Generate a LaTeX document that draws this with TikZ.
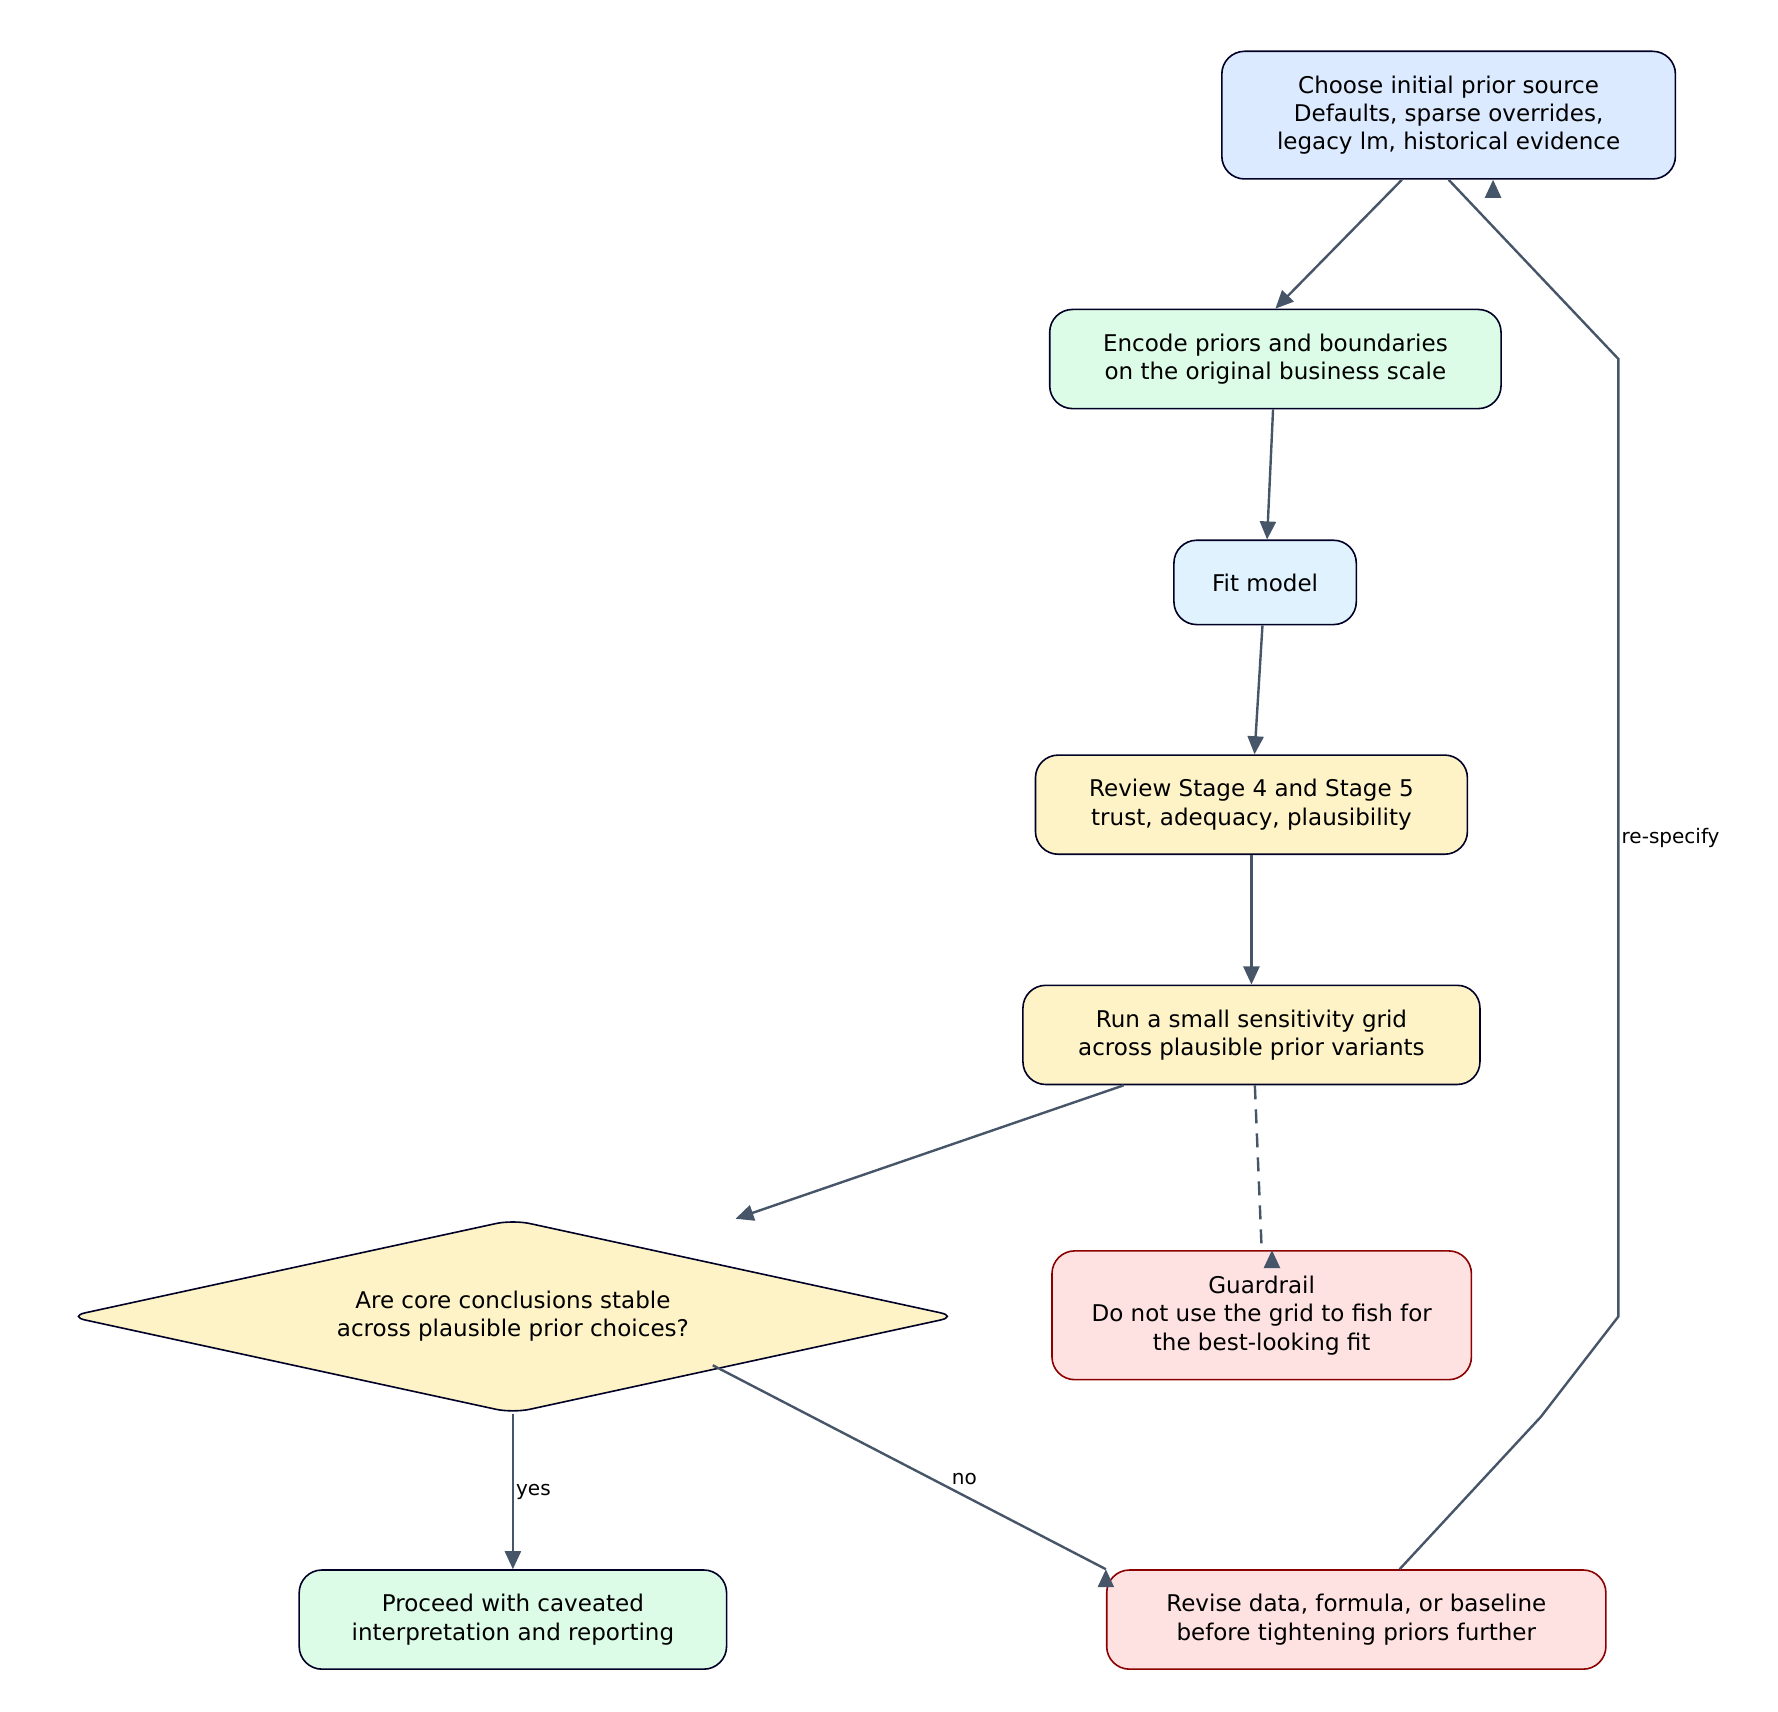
\documentclass[tikz,border=0pt]{standalone}
\usepackage{fontspec}
\setmainfont{DejaVu Sans}
\usetikzlibrary{shapes.geometric,arrows.meta}
\begin{document}
\begin{tikzpicture}[x=0.02cm,y=-0.02cm,
  box/.style={draw=black!85!blue,line width=0.8pt,rounded corners=0.4cm,align=center,inner sep=0pt,font=\fontsize{11.5}{14.2}\selectfont},
  redbox/.style={box,draw=red!55!black},
  edge/.style={draw=edgec,line width=1.2pt,-{Triangle[length=9pt,width=8pt]}},
  lab/.style={font=\fontsize{10}{12}\selectfont,inner sep=1pt}]
\definecolor{edgec}{HTML}{475569}
\definecolor{cblue}{HTML}{DBEAFE}
\definecolor{cgreen}{HTML}{DCFCE7}
\definecolor{csky}{HTML}{E0F2FE}
\definecolor{cyel}{HTML}{FEF3C7}
\definecolor{cred}{HTML}{FEE2E2}
\useasboundingbox (0,0) rectangle (1560,1502);
\node[box,fill=cblue,minimum width=398*0.02cm,minimum height=112*0.02cm] (choose) at (1271,101) {Choose initial prior source\\Defaults, sparse overrides,\\legacy lm, historical evidence};
\node[box,fill=cgreen,minimum width=396*0.02cm,minimum height=87*0.02cm] (encode) at (1119,315) {Encode priors and boundaries\\on the original business scale};
\node[box,fill=csky,minimum width=160*0.02cm,minimum height=74*0.02cm] (fit) at (1110,511) {Fit model};
\node[box,fill=cyel,minimum width=379*0.02cm,minimum height=87*0.02cm] (review) at (1098,706) {Review Stage 4 and Stage 5\\trust, adequacy, plausibility};
\node[box,fill=cyel,minimum width=401*0.02cm,minimum height=87*0.02cm] (run) at (1098,908) {Run a small sensitivity grid\\across plausible prior variants};
\node[box,draw,diamond,fill=cyel,rounded corners=0.3cm,aspect=4.6,minimum width=780*0.02cm,minimum height=170*0.02cm] (dec) at (450,1155) {Are core conclusions stable\\across plausible prior choices?};
\node[redbox,fill=cred,minimum width=368*0.02cm,minimum height=113*0.02cm] (guard) at (1107,1154) {Guardrail\\Do not use the grid to fish for\\the best-looking fit};
\node[box,fill=cgreen,minimum width=375*0.02cm,minimum height=87*0.02cm] (proceed) at (450,1421) {Proceed with caveated\\interpretation and reporting};
\node[redbox,fill=cred,minimum width=438*0.02cm,minimum height=87*0.02cm] (revise) at (1190,1421) {Revise data, formula, or baseline\\before tightening priors further};
\coordinate (r1) at (1352,1243);
\coordinate (r2) at (1420,1155);
\coordinate (r3) at (1420,315);
\path[edge] (choose.south) ++(-41,0) coordinate (c1) (c1) -- (encode.north);
\draw[edge] (encode) -- (fit);
\draw[edge] (fit) -- (review);
\draw[edge] (review) -- (run);
\draw[edge] (run.south) ++(-112,0) coordinate (rs) (rs) -- (dec.north east |- dec.north) ;
\draw[edge,dashed,dash pattern=on 7pt off 5pt] (run.south) ++(3,0) coordinate (rg) (rg) -- (guard.north) ++(9,0);
\draw[edge] (dec) -- node[lab,right,pos=0.5] {yes} (proceed);
\draw[edge] (dec.south east) ++(-20,0) coordinate (ds) (ds) -- node[lab,above right,pos=0.6] {no} (revise.north west) ++(0,0);
\draw[edge] (revise.north) ++(38,0) coordinate (rv) (rv) -- (r1) -- (r2) -- node[lab,right,pos=0.5] {re-specify} (r3) -- (choose.south) ++(39,0);
\end{tikzpicture}
\end{document}
